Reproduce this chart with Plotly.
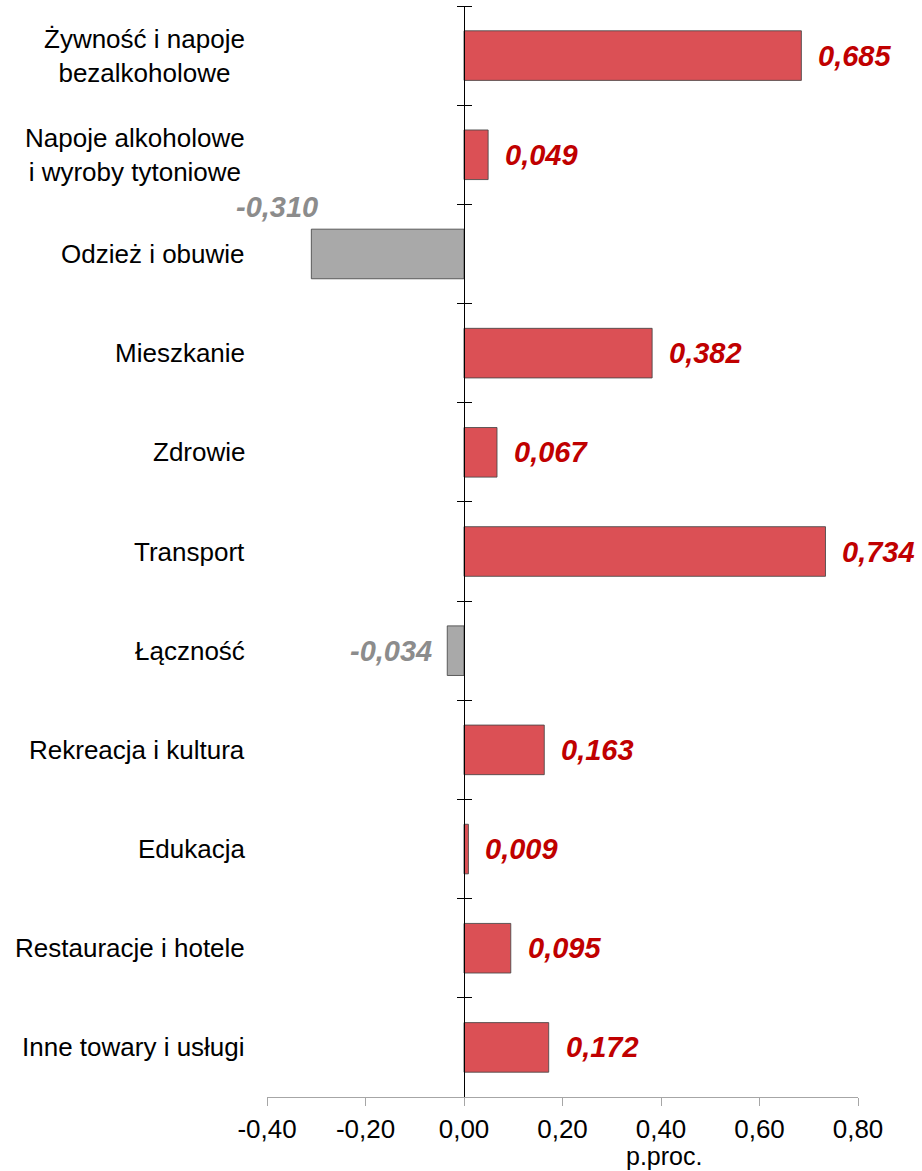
import plotly.graph_objects as go

categories = [
    "Żywność i napoje<br>bezalkoholowe",
    "Napoje alkoholowe<br>i wyroby tytoniowe",
    "Odzież i obuwie",
    "Mieszkanie",
    "Zdrowie",
    "Transport",
    "Łączność",
    "Rekreacja i kultura",
    "Edukacja",
    "Restauracje i hotele",
    "Inne towary i usługi",
]
values = [0.685, 0.049, -0.310, 0.382, 0.067, 0.734, -0.034, 0.163, 0.009, 0.095, 0.172]
x_ticks = [-0.40, -0.20, 0.00, 0.20, 0.40, 0.60, 0.80]
x_title = "p.proc."

FONT = "Liberation Sans, Arial, sans-serif"
POS_FILL = "#DB5055"
NEG_FILL = "#A9A9A9"
POS_TEXT = "#C00000"
NEG_TEXT = "#8C8C8C"

fills = [POS_FILL if v >= 0 else NEG_FILL for v in values]
x_ticktext = [f"{t:.2f}".replace(".", ",") for t in x_ticks]

fig = go.Figure()
fig.add_trace(go.Bar(
    x=values, y=categories, orientation="h",
    marker=dict(color=fills, line=dict(color="rgba(70,70,70,0.85)", width=1)),
    width=0.5, hoverinfo="skip",
))
# invisible helper trace so the mirrored tick axis knows the categories
fig.add_trace(go.Scatter(
    x=values, y=categories, yaxis="y2", mode="markers",
    marker=dict(opacity=0, size=1), hoverinfo="skip", showlegend=False,
))

annotations = []
for c, v in zip(categories, values):
    lbl = f"{v:.3f}".replace(".", ",")
    if v >= 0:
        annotations.append(dict(x=v, y=c, xref="x", yref="y", text=f"<b><i>{lbl}</i></b>",
                                showarrow=False, xanchor="left", yanchor="middle", xshift=15,
                                font=dict(family=FONT, size=29, color=POS_TEXT)))
    elif v < -0.1:
        annotations.append(dict(x=v, y=c, xref="x", yref="y", text=f"<b><i>{lbl}</i></b>",
                                showarrow=False, xanchor="right", yanchor="middle", xshift=9, yshift=47,
                                font=dict(family=FONT, size=29, color=NEG_TEXT)))
    else:
        annotations.append(dict(x=v, y=c, xref="x", yref="y", text=f"<b><i>{lbl}</i></b>",
                                showarrow=False, xanchor="right", yanchor="middle", xshift=-13,
                                font=dict(family=FONT, size=29, color=NEG_TEXT)))
    annotations.append(dict(x=0, y=c, xref="paper", yref="y", text=c, showarrow=False,
                            xanchor="right", yanchor="middle", xshift=-20, align="center",
                            font=dict(family=FONT, size=26, color="#000000")))

annotations.append(dict(x=0.672, y=0, xref="paper", yref="paper", text=x_title, showarrow=False,
                        xanchor="center", yanchor="middle", yshift=-59,
                        font=dict(family=FONT, size=25, color="#000000")))

yax = dict(type="category", categoryorder="array", categoryarray=categories,
           range=[10.5, -0.5], anchor="free", position=1/3,
           showline=True, linecolor="#000000", linewidth=1,
           ticks="outside", ticklen=7, tickwidth=1, tickcolor="#000000",
           tickson="boundaries", showticklabels=False, showgrid=False, zeroline=False)

fig.update_layout(
    width=922, height=1171,
    margin=dict(l=267, r=64, t=6, b=74),
    paper_bgcolor="white", plot_bgcolor="white",
    showlegend=False,
    font=dict(family=FONT, size=26, color="#000000"),
    xaxis=dict(range=[-0.4, 0.8], tickvals=x_ticks, ticktext=x_ticktext,
               showline=True, linecolor="#A6A6A6", linewidth=1,
               ticks="outside", ticklen=8, tickcolor="#A6A6A6", ticklabelstandoff=1,
               showgrid=False, zeroline=False,
               tickfont=dict(family=FONT, size=26, color="#000000")),
    yaxis=yax,
    yaxis2=dict(yax, overlaying="y", side="right", matches="y"),
    annotations=annotations,
)

fig.write_html("out.html", config={"displayModeBar": False},
               post_script="document.body.style.margin='0';document.body.style.padding='0';")
